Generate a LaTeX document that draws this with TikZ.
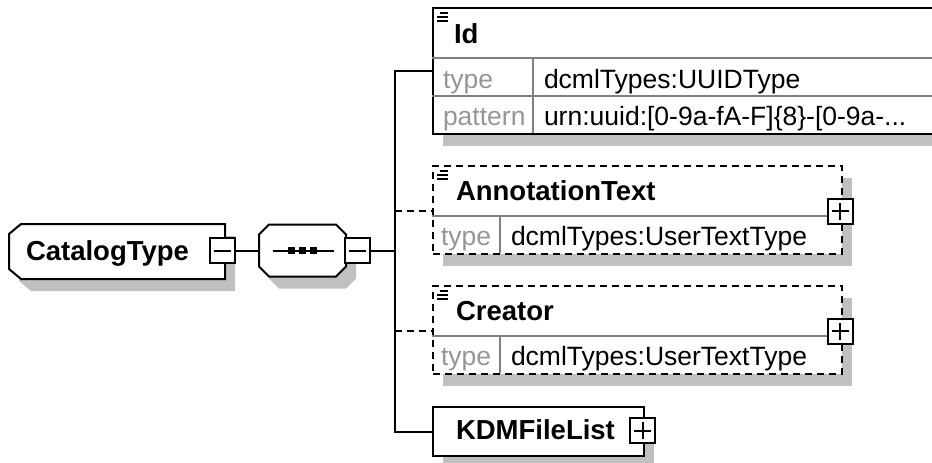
\documentclass[tikz,border=0pt]{standalone}
\usepackage{fontspec}
\setmainfont{Liberation Sans}
\usetikzlibrary{shadows,positioning}

\definecolor{shadowgray}{RGB}{192,192,192}
\definecolor{sepgray}{RGB}{128,128,128}
\definecolor{labelgray}{RGB}{150,150,150}

\begin{document}
\begin{tikzpicture}[x=1pt,y=-1pt,line width=2pt,
    every node/.style={font=\fontsize{26.5}{30}\selectfont},
    boxshadow/.style={drop shadow={shadow xshift=10pt,shadow yshift=-12pt,fill=shadowgray,opacity=1}},
    elem/.style={draw,fill=white,rectangle,inner sep=0pt,anchor=north west,boxshadow},
    optelem/.style={elem,dash pattern=on 7pt off 5pt},
    outline/.style={draw,fill=white,boxshadow},
    frame/.style={rectangle,inner sep=0pt},
    btn/.style={draw,fill=white,minimum size=25pt,inner sep=0pt},
    minusbtn/.style={btn,path picture={
      \draw ([xshift=4pt]path picture bounding box.west) -- ([xshift=-4pt]path picture bounding box.east);}},
    plusbtn/.style={btn,path picture={
      \draw ([xshift=4pt]path picture bounding box.west) -- ([xshift=-4pt]path picture bounding box.east);
      \draw ([yshift=4pt]path picture bounding box.south) -- ([yshift=-4pt]path picture bounding box.north);}},
    elname/.style={font=\bfseries\fontsize{27.5}{32}\selectfont,anchor=base west,inner sep=0pt},
    attr/.style={text=labelgray,anchor=base west,inner sep=0pt},
    val/.style={anchor=base west,inner sep=0pt},
    rowsep/.style={draw=sepgray},
    conn/.style={line width=2pt},
    optconn/.style={conn,dash pattern=on 7pt off 5pt}]
  \useasboundingbox (0,0) rectangle (932,463);

  % root type and sequence
  \node[frame,minimum width=214pt,minimum height=53pt] (ct) at (117,251.5) {};
  \draw[outline] ([xshift=12pt]ct.north west) -- (ct.north east) -- (ct.south east)
    -- ([xshift=12pt]ct.south west) -- ([yshift=10pt]ct.south west) -- ([yshift=-10pt]ct.north west) -- cycle;
  \node[elname] (ctname) at (25,260) {CatalogType};
  \node[minusbtn] (ctmin) at (222.5,250.5) {};

  \node[frame,minimum width=85pt,minimum height=50pt] (seq) at (302.5,250.5) {};
  \draw[outline] ([xshift=10pt]seq.north west) -- ([xshift=-10pt]seq.north east)
    -- ([yshift=-10pt]seq.north east) -- ([yshift=10pt]seq.south east)
    -- ([xshift=-10pt]seq.south east) -- ([xshift=10pt]seq.south west)
    -- ([yshift=10pt]seq.south west) -- ([yshift=-10pt]seq.north west) -- cycle;
  \draw ([xshift=-30pt]seq.center) -- ([xshift=31pt]seq.center);
  \foreach \dx in {-11,0,11}
    \fill ([xshift=\dx pt]seq.center) +(-3.5,-3.5) rectangle +(3.5,3.5);
  \node[minusbtn] (seqmin) at (357.5,250.5) {};

  % child elements
  \node[elem,minimum width=513pt,minimum height=126pt] (id) at (432,7) {};
  \draw[rowsep] (432,58) -- (945,58) (432,96) -- (945,96) (533,58) -- (533,133);
  \node[elname] at (453,43) {Id};
  \node[attr] at (442,88) {type};
  \node[val] at (543,88) {dcmlTypes:UUIDType};
  \node[attr] at (442,125) {pattern};
  \node[val] at (543,125) {urn:uuid:[0-9a-fA-F]\{8\}-[0-9a-...};

  \node[optelem,minimum width=409pt,minimum height=88pt] (ann) at (432,165) {};
  \draw[rowsep] (432,216) -- (827,216) (500,216) -- (500,253);
  \node[elname] at (455,200) {AnnotationText};
  \node[attr] at (440,245) {type};
  \node[val] at (510,245) {dcmlTypes:UserTextType};
  \node[plusbtn] (annplus) at (840,211) {};

  \node[optelem,minimum width=409pt,minimum height=88pt] (cre) at (432,285) {};
  \draw[rowsep] (432,336) -- (827,336) (500,336) -- (500,373);
  \node[elname] at (455,320) {Creator};
  \node[attr] at (440,365) {type};
  \node[val] at (510,365) {dcmlTypes:UserTextType};
  \node[plusbtn] (creplus) at (840,331) {};

  \node[elem,minimum width=211pt,minimum height=49pt] (kdm) at (432,406) {};
  \node[elname] at (455,439) {KDMFileList};
  \node[plusbtn] (kdmplus) at (642.5,430.5) {};

  % element icons
  \foreach \bx in {id,ann,cre}
    \foreach \dy/\dx in {6/8,10/5,14/5}
      \draw[line width=1.3pt] ([shift={(\dx,\dy)}]\bx.north west) -- ([shift={(16,\dy)}]\bx.north west);

  % connectors
  \coordinate (bus) at (395,250.5);
  \coordinate (idin) at (432,71);
  \coordinate (annin) at (432,211);
  \coordinate (crein) at (432,331);
  \draw[conn] (ctmin.east) -- (seq.west);
  \draw[conn] (seqmin.east) -- (bus);
  \draw[conn] (idin) -| (bus) |- (kdm.west);
  \draw[optconn] (bus |- annin) -- (annin);
  \draw[optconn] (bus |- crein) -- (crein);
\end{tikzpicture}
\end{document}
